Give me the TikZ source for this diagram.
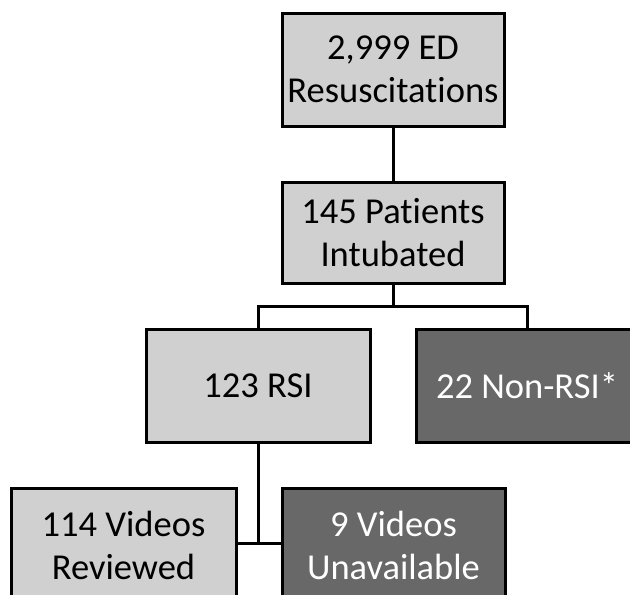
\documentclass[tikz,border=0pt]{standalone}
\usepackage{fontspec}
\setmainfont{Carlito}[Ligatures={NoCommon}]
\definecolor{lightbox}{HTML}{D0D0D0}
\definecolor{darkbox}{HTML}{686868}
\begin{document}
\begin{tikzpicture}[x=1pt,y=-1pt,
  box/.style={draw=black,line width=3pt,fill=lightbox,minimum width=222pt,
    minimum height=113pt,align=center,inner sep=0pt,
    font=\fontsize{36.5}{43}\selectfont,text=black},
  darkfill/.style={fill=darkbox,text=white},
  link/.style={line width=3pt,line cap=rect}]
\useasboundingbox (0,0) rectangle (630,595);
\clip (0,0) rectangle (630,595);
\node[box] (ed) at (393,69.5) {2,999 ED\\Resuscitations};
\node[box,minimum height=101pt] (intub) at (393,232.5) {145 Patients\\Intubated};
\node[box,minimum width=224pt] (rsi) at (258,385.5) {123 RSI};
\node[box,darkfill,minimum width=222pt] (nonrsi) at (527,385.5) {22 Non-RSI*};
\node[box,minimum width=225pt] (rev) at (123.5,545) {114 Videos\\Reviewed};
\node[box,darkfill,minimum width=223pt] (unav) at (393.5,545) {9 Videos\\Unavailable};
\coordinate (split) at (393,306);
\coordinate (join) at (258,543);
\draw[link] (ed) -- (intub);
\draw[link] (intub) -- (split);
\draw[link] (rsi.north) |- (split) -| (nonrsi.north);
\draw[link] (rsi) -- (join);
\draw[link] (rev.east |- join) -- (unav.west |- join);
\end{tikzpicture}
\end{document}
